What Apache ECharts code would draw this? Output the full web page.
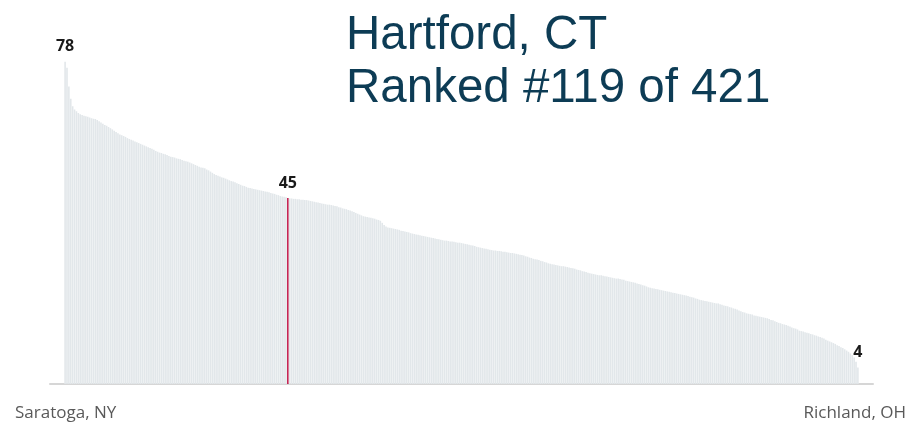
<!DOCTYPE html>
<html>
<head>
<meta charset="utf-8">
<script src="https://cdn.jsdelivr.net/npm/echarts@6/dist/echarts.min.js"></script>
<style>
html,body{margin:0;padding:0;background:#fff;}
#chart{width:912px;height:423px;}
</style>
</head>
<body>
<div id="chart"></div>
<script>
// ---- data ----
const highlightCity = 'Hartford, CT';
const highlightRank = 119;
const totalCount = 421;
const firstPlace = 'Saratoga, NY';
const lastPlace = 'Richland, OH';
const labelledRanks = [1, 119, 421];
const values = [
78, 76.5, 72, 69, 67.2, 66.4, 66.0, 65.6, 65.3, 65.1,
64.9, 64.8, 64.7, 64.5, 64.3, 64.2, 64.1, 63.9, 63.6, 63.3,
63.0, 62.7, 62.5, 62.2, 61.9, 61.6, 61.3, 61.0, 60.7, 60.4,
60.2, 60.0, 59.8, 59.5, 59.3, 59.1, 58.9, 58.7, 58.5, 58.3,
58.1, 57.9, 57.7, 57.5, 57.3, 57.1, 56.9, 56.7, 56.4, 56.2,
56.0, 55.9, 55.7, 55.6, 55.4, 55.2, 55.0, 54.9, 54.8, 54.6,
54.5, 54.4, 54.2, 54.0, 53.9, 53.8, 53.6, 53.4, 53.2, 53.0,
52.8, 52.6, 52.4, 52.3, 52.2, 51.9, 51.7, 51.4, 51.1, 50.8,
50.6, 50.4, 50.2, 50.0, 49.9, 49.7, 49.5, 49.3, 49.1, 49.0,
48.8, 48.6, 48.4, 48.2, 48.0, 47.9, 47.7, 47.5, 47.4, 47.3,
47.2, 47.1, 47.0, 46.9, 46.8, 46.7, 46.6, 46.5, 46.4, 46.2,
46.1, 46.0, 45.8, 45.7, 45.5, 45.4, 45.3, 45.2, 45, 44.9,
44.9, 44.8, 44.8, 44.7, 44.7, 44.6, 44.6, 44.5, 44.5, 44.4,
44.3, 44.2, 44.1, 44.0, 43.9, 43.8, 43.7, 43.6, 43.5, 43.4,
43.4, 43.3, 43.2, 43.1, 43.0, 42.8, 42.7, 42.5, 42.4, 42.3,
42.1, 42.0, 41.8, 41.6, 41.4, 41.2, 41.0, 40.8, 40.6, 40.5,
40.4, 40.3, 40.2, 40.1, 40.0, 39.8, 39.7, 39.5, 39.0, 38.5,
38.1, 37.9, 37.8, 37.7, 37.6, 37.5, 37.4, 37.3, 37.1, 37.0,
36.9, 36.8, 36.7, 36.5, 36.4, 36.3, 36.2, 36.1, 36.0, 35.9,
35.8, 35.7, 35.6, 35.5, 35.4, 35.3, 35.2, 35.1, 35.0, 34.9,
34.8, 34.7, 34.7, 34.6, 34.5, 34.5, 34.4, 34.3, 34.2, 34.2,
34.1, 34.0, 33.9, 33.8, 33.7, 33.6, 33.5, 33.4, 33.2, 33.1,
33.0, 32.9, 32.8, 32.7, 32.6, 32.5, 32.4, 32.3, 32.3, 32.2,
32.2, 32.1, 32.0, 32.0, 31.9, 31.8, 31.7, 31.7, 31.6, 31.5,
31.4, 31.3, 31.2, 31.1, 30.9, 30.8, 30.6, 30.5, 30.3, 30.2,
30.1, 30.0, 29.8, 29.7, 29.5, 29.4, 29.2, 29.1, 29.0, 28.9,
28.8, 28.7, 28.6, 28.5, 28.5, 28.4, 28.3, 28.2, 28.1, 28.0,
27.9, 27.7, 27.6, 27.5, 27.3, 27.2, 27.1, 26.9, 26.8, 26.7,
26.6, 26.5, 26.4, 26.3, 26.3, 26.2, 26.1, 26.0, 25.9, 25.8,
25.7, 25.6, 25.5, 25.5, 25.4, 25.3, 25.2, 25.0, 24.9, 24.8,
24.7, 24.6, 24.5, 24.3, 24.2, 24.1, 23.9, 23.8, 23.6, 23.4,
23.3, 23.2, 23.1, 23.0, 22.9, 22.8, 22.7, 22.6, 22.5, 22.4,
22.3, 22.2, 22.1, 22.0, 21.9, 21.8, 21.7, 21.6, 21.5, 21.4,
21.3, 21.1, 21.0, 20.9, 20.7, 20.6, 20.4, 20.3, 20.2, 20.1,
20.0, 19.9, 19.8, 19.7, 19.6, 19.5, 19.5, 19.3, 19.2, 19.0,
18.9, 18.8, 18.6, 18.5, 18.3, 18.2, 18.0, 17.8, 17.6, 17.4,
17.3, 17.1, 17.0, 16.9, 16.8, 16.6, 16.5, 16.4, 16.3, 16.2,
16.1, 16.0, 15.9, 15.7, 15.5, 15.4, 15.2, 15.0, 14.8, 14.7,
14.5, 14.4, 14.3, 14.1, 13.9, 13.7, 13.5, 13.4, 13.2, 12.9,
12.8, 12.7, 12.5, 12.4, 12.3, 12.1, 12.0, 11.8, 11.7, 11.5,
11.4, 11.2, 11.0, 10.7, 10.5, 10.3, 10.1, 9.9, 9.7, 9.4,
9.2, 8.9, 8.7, 8.4, 8.1, 7.8, 7.4, 7.0, 6.4, 5.4,
4
];

// ---- styling ----
const barColor = '#e2e7ea';
const highlightColor = '#c41e4f';
const titleColor = '#0d3c55';

const seriesData = values.map(function (v, i) {
  const rank = i + 1;
  const item = { value: [rank, v] };
  if (rank === highlightRank) {
    item.itemStyle = { color: highlightColor };
  }
  if (labelledRanks.indexOf(rank) >= 0) {
    item.label = { show: true };
  }
  return item;
});

const chart = echarts.init(document.getElementById('chart'), null, { renderer: 'canvas' });
chart.setOption({
  animation: false,
  backgroundColor: '#ffffff',
  title: [
    {
      text: highlightCity + '\nRanked #' + highlightRank + ' of ' + totalCount,
      left: 341, top: 4,
      textStyle: { fontFamily: 'Liberation Sans', fontSize: 47.5, fontWeight: 'normal', color: titleColor, lineHeight: 53 }
    },
    {
      text: firstPlace,
      left: 10, top: 398,
      textStyle: { fontFamily: 'Open Sans', fontSize: 17, fontWeight: 'normal', color: '#595959', lineHeight: 20 }
    },
    {
      text: lastPlace,
      right: 1, top: 398,
      textStyle: { fontFamily: 'Open Sans', fontSize: 17, fontWeight: 'normal', color: '#595959', lineHeight: 20 }
    }
  ],
  grid: { left: 50, right: 39, top: 53.4, bottom: 39 },
  xAxis: {
    type: 'value', min: -7, max: 429,
    axisLine: { show: true, onZero: false, lineStyle: { color: '#d6d6d6', width: 2 } },
    axisTick: { show: false }, axisLabel: { show: false }, splitLine: { show: false }
  },
  yAxis: {
    type: 'value', min: 0, max: 80, show: false,
    splitLine: { show: false }
  },
  series: [{
    type: 'bar',
    barWidth: 1.6,
    data: seriesData,
    itemStyle: { color: barColor },
    label: {
      show: false, position: 'top', distance: 7,
      fontFamily: 'Open Sans', fontWeight: 'bold', fontSize: 16, color: '#1a1a1a',
      formatter: function (p) { return String(p.value[1]); }
    }
  }]
});
</script>
</body>
</html>
